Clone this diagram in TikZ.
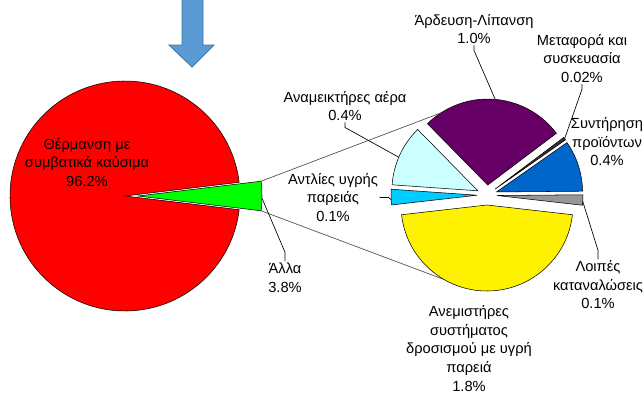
\documentclass[tikz,border=0pt]{standalone}
\usepackage{fontspec}
\setmainfont{Liberation Sans}
\usepackage{xcolor}
\usepackage{tikz}
\usetikzlibrary{positioning,calc}

\definecolor{arrowblue}{RGB}{91,155,213}
\definecolor{arrowedge}{RGB}{65,113,156}
\definecolor{purpleslice}{RGB}{102,0,102}
\definecolor{cyanslice}{RGB}{204,255,255}
\definecolor{skyslice}{RGB}{0,204,255}
\definecolor{blueslice}{RGB}{0,102,204}
\definecolor{greyslice}{RGB}{150,150,150}
\definecolor{darkslice}{RGB}{51,51,51}

\begin{document}
\begin{tikzpicture}[
    x=0.75pt, y=0.75pt,
    slice/.style={draw=black, line width=0.4pt},
    lbl/.style={align=center, font=\fontsize{11}{13.9}\selectfont, inner sep=1pt},
    lead/.style={draw=black, line width=0.5pt},
    link/.style={draw=black!70, line width=0.5pt}
]
\useasboundingbox (0,0) rectangle (644,394);

% arrow coming from above
\filldraw[fill=arrowblue, draw=arrowedge, line width=0.6pt]
    (182,394) -- (182,349) -- (169,349) -- (192,327) -- (214,349) -- (203,349) -- (203,394);

% main pie
\coordinate (redc) at (125,198);
\coordinate (grnc) at (138,198);
\filldraw[slice, fill=red] (redc) -- ++(6.85:115) arc[start angle=6.85, end angle=353.15, radius=115] -- cycle;
\filldraw[slice, fill=green] (grnc) -- ++(-6.85:124) arc[start angle=-6.85, end angle=6.85, radius=124] -- cycle;

% second pie, exploded slices
\coordinate (pc) at (487,199);
\coordinate (c-loip) at ($(pc)+(-3:10)$);
\coordinate (c-synt) at ($(pc)+(17.75:10)$);
\coordinate (c-metaf) at ($(pc)+(36:10)$);
\coordinate (c-arde) at ($(pc)+(85.75:10)$);
\coordinate (c-anam) at ($(pc)+(155.25:10)$);
\coordinate (c-antl) at ($(pc)+(181.25:10)$);
\coordinate (c-anem) at ($(pc)+(270:10)$);

\filldraw[slice, fill=greyslice] (c-loip) -- ++(-6.5:86) arc[start angle=-6.5, end angle=0.5, radius=86] -- cycle;
\filldraw[slice, fill=blueslice] (c-synt) -- ++(0.5:86) arc[start angle=0.5, end angle=35, radius=86] -- cycle;
\filldraw[slice, fill=darkslice] (c-metaf) -- ++(35:86) arc[start angle=35, end angle=37, radius=86] -- cycle;
\filldraw[slice, fill=purpleslice] (c-arde) -- ++(37:86) arc[start angle=37, end angle=134.5, radius=86] -- cycle;
\filldraw[slice, fill=cyanslice] (c-anam) -- ++(134.5:86) arc[start angle=134.5, end angle=176, radius=86] -- cycle;
\filldraw[slice, fill=skyslice] (c-antl) -- ++(176:86) arc[start angle=176, end angle=186.5, radius=86] -- cycle;
\filldraw[slice, fill=yellow] (c-anem) -- ++(186.5:86) arc[start angle=186.5, end angle=353.5, radius=86] -- cycle;

% lines between the two pies
\coordinate (g-top) at ($(grnc)+(6.85:124)$);
\coordinate (g-bot) at ($(grnc)+(-6.85:124)$);
\coordinate (t-top) at ($(c-arde)+(123:86)$);
\coordinate (t-bot) at ($(c-anem)+(240:86)$);
\draw[link] (g-top) -- (t-top);
\draw[link] (g-bot) -- (t-bot);

% labels
\node[lbl] (therm) at (87,231.5) {Θέρμανση με\\συμβατικά καύσιμα\\96.2\%};
\node[lbl] (alla) at (285,116.5) {Άλλα\\3.8\%};
\node[lbl] (anam) at (345,288) {Αναμεικτήρες αέρα\\0.4\%};
\node[lbl] (arde) at (474,365) {Άρδευση-Λίπανση\\1.0\%};
\node[lbl] (metaf) at (582,335.5) {Μεταφορά και\\συσκευασία\\0.02\%};
\node[lbl] (synt) at (607,252) {Συντήρηση\\προϊόντων\\0.4\%};
\node[lbl] (antl) at (333,196.5) {Αντλίες υγρής\\παρειάς\\0.1\%};
\node[lbl] (loip) at (598,109) {Λοιπές\\καταναλώσεις\\0.1\%};
\node[lbl] (anem) at (469,45.5) {Ανεμιστήρες\\συστήματος\\δροσισμού με υγρή\\παρειά\\1.8\%};

% leader lines
\coordinate (p-alla) at ($(grnc)+(-1:124)$);
\coordinate (p-anam) at ($(c-anam)+(157:86)$);
\coordinate (p-arde) at ($(c-arde)+(85:86)$);
\coordinate (p-metaf) at ($(c-metaf)+(36:86)$);
\coordinate (p-antl) at ($(c-antl)+(183:86)$);
\coordinate (p-loip) at ($(c-loip)+(-4:86)$);
\draw[lead] (alla.north) -- ++(0,9) -- (p-alla);
\draw[lead] (anam.south) -- ++(0,-5) -- (p-anam);
\draw[lead] (arde.south) -- ++(0,-5) -- (p-arde);
\draw[lead] (metaf.south) -- ++(0,-5) -- (p-metaf);
\draw[lead] (antl.east) -- ++(9,0) -- (p-antl);
\draw[lead] (loip.north) -- ++(0,9) -- (p-loip);

\end{tikzpicture}
\end{document}
